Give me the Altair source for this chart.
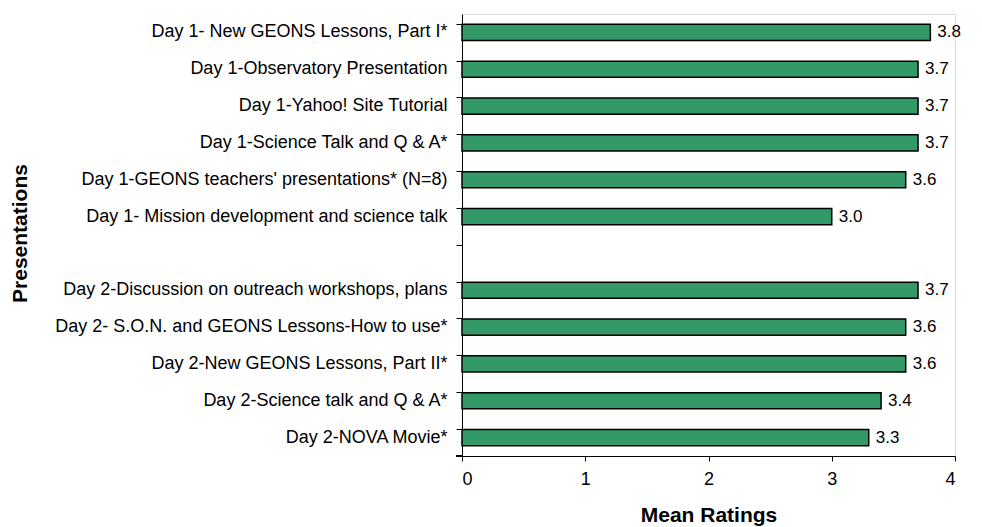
import altair as alt
import pandas as pd

categories = [
    "Day 1- New GEONS Lessons, Part I*",
    "Day 1-Observatory Presentation",
    "Day 1-Yahoo! Site Tutorial",
    "Day 1-Science Talk and Q & A*",
    "Day 1-GEONS teachers' presentations* (N=8)",
    "Day 1- Mission development and science talk",
    " ",
    "Day 2-Discussion on outreach workshops, plans",
    "Day 2- S.O.N. and GEONS Lessons-How to use*",
    "Day 2-New GEONS Lessons, Part II*",
    "Day 2-Science talk and Q & A*",
    "Day 2-NOVA Movie*",
]
values = [3.8, 3.7, 3.7, 3.7, 3.6, 3.0, None, 3.7, 3.6, 3.6, 3.4, 3.3]
value_labels = ["3.8", "3.7", "3.7", "3.7", "3.6", "3.0", "", "3.7", "3.6", "3.6", "3.4", "3.3"]

df = pd.DataFrame({"cat": categories, "val": values, "lab": value_labels})
df = df[df["val"].notna()]

FONT = "Liberation Sans"

y_enc = alt.Y(
    "cat:N",
    sort=categories,
    scale=alt.Scale(domain=categories, paddingInner=0.56, paddingOuter=0.28),
    axis=alt.Axis(
        title="Presentations",
        titleFont=FONT, titleFontSize=21, titleFontWeight="bold", titleColor="black",
        titleX=-436, titleY=219, titleAngle=-90, titleBaseline="alphabetic",
        titleAlign="center",
        labelFont=FONT, labelFontSize=18, labelColor="black", labelLimit=500,
        labelPadding=9,
        bandPosition=0, tickSize=6, tickColor="black", domainColor="black",
        tickWidth=1, domainWidth=1,
    ),
)

x_enc = alt.X(
    "val:Q",
    scale=alt.Scale(domain=[0, 4], nice=False),
    axis=alt.Axis(
        title="Mean Ratings", values=[0, 1, 2, 3, 4], format="d",
        titleFont=FONT, titleFontSize=21, titleFontWeight="bold", titleColor="black",
        titleY=65, titleBaseline="alphabetic",
        labelFont=FONT, labelFontSize=18, labelColor="black", labelPadding=9,
        tickSize=5, tickColor="black", domainColor="black", grid=False,
        tickWidth=1, domainWidth=1,
    ),
)

bars = alt.Chart(df).mark_bar(
    color="#339966", stroke="black", strokeWidth=1.5
).encode(y=y_enc, x=x_enc)

text = alt.Chart(df).mark_text(
    align="left", baseline="middle", dx=7, font=FONT, fontSize=17, color="black"
).encode(y=alt.Y("cat:N", sort=categories), x="val:Q", text="lab:N")

bottom_tick = alt.Chart(df).mark_rule(color="black", strokeWidth=1).encode(
    x=alt.value(-6), x2=alt.value(0), y=alt.value(442)
)

chart = (
    alt.layer(bars, text, bottom_tick)
    .properties(
        width=493, height=442,
        autosize=alt.AutoSizeParams(type="none"),
        padding={"left": 462, "top": 14, "right": 27, "bottom": 71},
    )
    .configure_view(stroke=None)
    .configure(background="white")
)

chart.save("out.html", embed_options={"renderer": "svg", "actions": False})
